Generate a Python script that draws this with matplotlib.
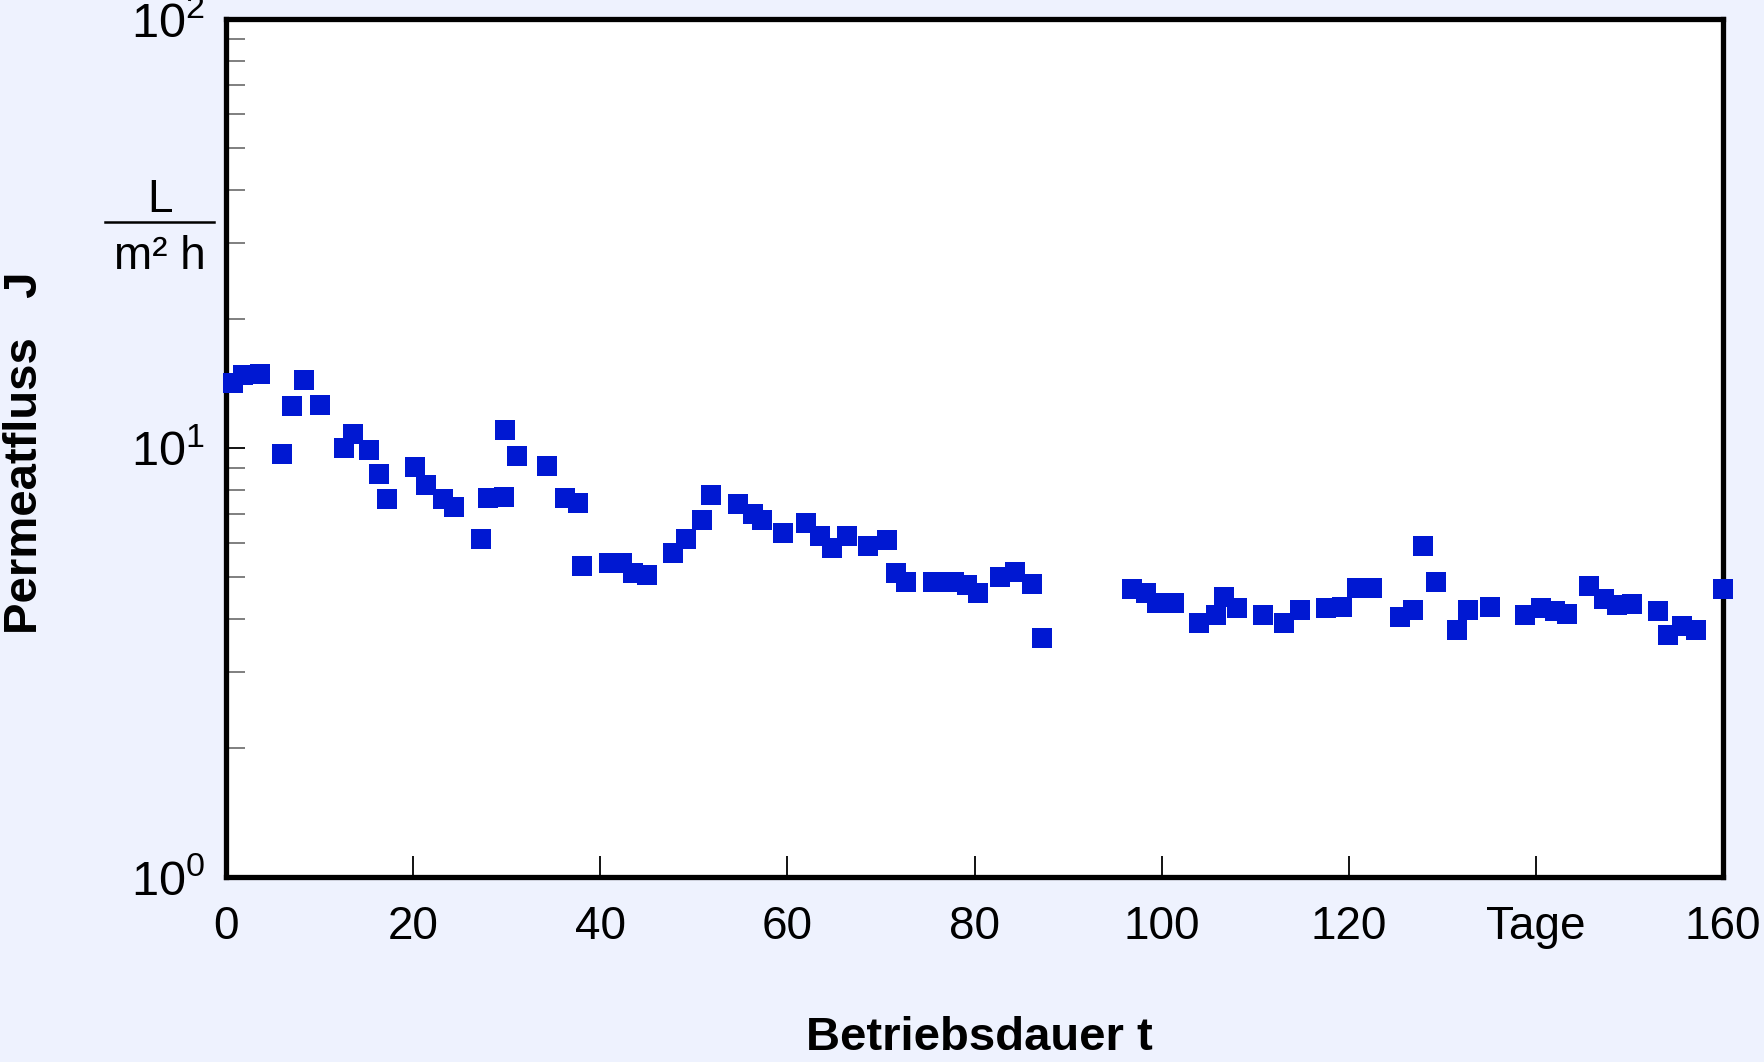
import matplotlib
matplotlib.use("Agg")
import matplotlib.pyplot as plt
from matplotlib.lines import Line2D
from matplotlib.ticker import LogLocator, FixedLocator, NullFormatter

plt.rcParams['font.family'] = ['Liberation Sans', 'DejaVu Sans']
plt.rcParams['mathtext.fontset'] = 'custom'
plt.rcParams['mathtext.rm'] = 'Liberation Sans'

# Betriebsdauer in Tagen, Permeatfluss in L/(m2 h)
tage = [0.8, 1.8, 3.6, 6.0, 7.1, 8.3, 10.1, 12.6, 13.6, 15.3, 16.4, 17.2,
        20.2, 21.4, 23.2, 24.4, 27.3, 28.0, 29.7, 29.8, 31.1, 34.3, 36.2, 37.6,
        38.0, 40.9, 42.3, 43.5, 45.0, 47.8, 49.2, 50.9, 51.8, 54.7, 56.3, 57.3,
        59.5, 62.0, 63.5, 64.8, 66.4, 68.6, 70.7, 71.6, 72.7, 75.6, 76.6, 77.8,
        79.2, 80.4, 82.7, 84.3, 86.1, 87.2, 96.8, 98.3, 99.5, 101.3, 104.0, 105.8,
        106.7, 108.1, 110.8, 113.1, 114.8, 117.6, 119.3, 120.9, 122.5, 125.5, 126.9, 127.9,
        129.3, 131.6, 132.7, 135.1, 138.8, 140.5, 142.0, 143.3, 145.7, 147.3, 148.7, 150.3,
        153.0, 154.1, 155.6, 157.1, 160.0]
fluss = [14.2, 14.8, 14.9, 9.7, 12.5, 14.4, 12.6, 10.0, 10.8, 9.9, 8.7, 7.6,
         9.05, 8.2, 7.6, 7.3, 6.15, 7.65, 7.7, 11.0, 9.6, 9.1, 7.65, 7.45,
         5.3, 5.4, 5.4, 5.1, 5.07, 5.7, 6.15, 6.8, 7.75, 7.4, 7.0, 6.8,
         6.35, 6.7, 6.25, 5.85, 6.25, 5.9, 6.1, 5.1, 4.86, 4.86, 4.86, 4.86,
         4.8, 4.6, 5.0, 5.15, 4.83, 3.6, 4.7, 4.6, 4.36, 4.36, 3.9, 4.08,
         4.5, 4.23, 4.08, 3.9, 4.2, 4.23, 4.26, 4.72, 4.72, 4.03, 4.2, 5.9,
         4.86, 3.77, 4.2, 4.26, 4.08, 4.23, 4.18, 4.1, 4.77, 4.44, 4.3, 4.33,
         4.16, 3.66, 3.84, 3.77, 4.7]

x_ticks = [0, 20, 40, 60, 80, 100, 120, 140, 160]
x_ticklabels = ['0', '20', '40', '60', '80', '100', '120', 'Tage', '160']

fig = plt.figure(figsize=(17.64, 10.62), dpi=100, facecolor='#eef2fe')
ax = fig.add_axes([226 / 1764, 1 - 877 / 1062, (1723 - 226) / 1764, (877 - 19) / 1062])
ax.set_facecolor('white')

ax.plot(tage, fluss, linestyle='none', marker='s', markersize=15,
        markeredgewidth=0, color='#0018d2', clip_on=False, zorder=5)

ax.set_yscale('log')
ax.set_xlim(0, 160)
ax.set_ylim(1, 100)

ax.xaxis.set_major_locator(FixedLocator(x_ticks))
ax.set_xticklabels(x_ticklabels)
ax.yaxis.set_major_locator(LogLocator(base=10, numticks=5))
ax.yaxis.set_minor_locator(LogLocator(base=10, subs=range(2, 10), numticks=10))
ax.yaxis.set_minor_formatter(NullFormatter())

for s in ax.spines.values():
    s.set_linewidth(3.8)
    s.set_zorder(4)

ax.tick_params(axis='x', which='major', direction='in', length=15, width=1.3,
               labelsize=33, pad=20, top=False)
ax.tick_params(axis='y', which='major', direction='in', length=14, width=1.3,
               labelsize=35, pad=15, right=False)
ax.tick_params(axis='y', which='minor', direction='in', length=14, width=1.2,
               color='#6a6a6a', right=False)

# Achsentitel
fig.text(25 / 1764, 1 - 453 / 1062, 'Permeatfluss   J', rotation=90,
         ha='center', va='center', fontsize=34, fontweight='bold')
fig.text(979 / 1764, 2 / 1062, 'Betriebsdauer t', ha='center', va='bottom',
         fontsize=34, fontweight='bold')

# Einheit als Bruch
fig.text(160 / 1764, 1 - 200 / 1062, 'L', ha='center', va='center', fontsize=33)
fig.text(160 / 1764, 1 - 257 / 1062, 'm² h', ha='center', va='center', fontsize=33)
fig.add_artist(Line2D([105 / 1764, 214 / 1764], [1 - 222 / 1062, 1 - 222 / 1062],
                      transform=fig.transFigure, color='black', linewidth=1.8))

fig.savefig('out.png', dpi=100, facecolor=fig.get_facecolor())
